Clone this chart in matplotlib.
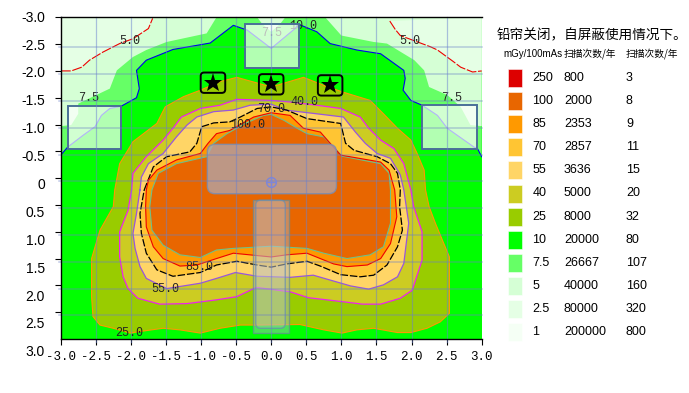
import matplotlib
matplotlib.use("Agg")
import matplotlib.pyplot as plt
from matplotlib.patches import FancyBboxPatch, Rectangle

W, H = 689, 393

plt.rcParams['font.family'] = ['Liberation Sans', 'Noto Sans CJK SC', 'DejaVu Sans']

# dose contours (x, y in metres)
c25_x = [0, .46, .75, 1.01, 1.41, 1.60, 1.80, 1.99, 2.08, 2.18, 2.20, 2.25, 2.34, 2.46, 2.54, 2.54, 2.41, 2.22, 1.99, 1.80, 1.46, 1.22, 1.01, .75, .41, -.20, -.44, -.73, -1.01, -1.30, -1.54, -1.87, -2.01, -2.25, -2.44, -2.54, -2.56, -2.56, -2.44, -2.25, -2.23, -2.16, -1.97, -1.63, -1.51, -1.25, -1.01, -.73, -.49, -.16, 0]
c25_y = [-1.70, -1.88, -1.73, -1.61, -1.45, -1.20, -.93, -.71, -.46, -.15, .22, .53, .84, 1.22, 1.47, 2.52, 2.68, 2.80, 2.88, 2.88, 2.80, 2.83, 2.89, 2.83, 2.73, 2.74, 2.74, 2.80, 2.89, 2.83, 2.80, 2.86, 2.89, 2.80, 2.74, 2.58, 2.21, 1.50, .97, .53, .22, -.27, -.68, -1.02, -1.33, -1.52, -1.64, -1.80, -1.88, -1.76, -1.70]

c40_x = [-1.99, -1.97, -1.78, -1.54, -1.40, -1.28, -1.01, -.73, -.49, 0, .27, .65, .99, 1.27, 1.39, 1.56, 1.75, 1.89, 1.99, 2.03, 2.15, 2.15, 2.01, 1.84, 1.56, 1.30, .99, .53, .27, -.20, -.25, -.49, -.78, -1.20, -1.59, -1.90, -2.04, -2.11, -2.16, -2.16, -2.04, -1.99]
c40_y = [.22, -.09, -.40, -.71, -.93, -1.14, -1.30, -1.36, -1.47, -1.45, -1.42, -1.36, -1.30, -1.14, -.93, -.71, -.55, -.27, .22, .53, 1.0, 1.53, 2.09, 2.24, 2.35, 2.35, 2.30, 2.23, 2.12, 2.04, 2.06, 2.21, 2.27, 2.34, 2.35, 2.24, 2.06, 1.84, 1.47, 1.0, .60, .22]

c55_x = [-1.87, -1.85, -1.75, -1.54, -1.35, -1.20, -1.06, -.82, -.54, -.30, 0, .20, .65, 1.03, 1.20, 1.34, 1.51, 1.70, 1.84, 1.89, 1.96, 1.89, 1.80, 1.60, 1.39, 1.13, .60, .27, -.20, -.51, -.78, -1.01, -1.49, -1.78, -1.87, -1.94, -1.97, -1.92, -1.87]
c55_y = [.22, -.02, -.27, -.46, -.77, -.99, -1.14, -1.24, -1.27, -1.36, -1.38, -1.27, -1.20, -1.14, -.86, -.65, -.46, -.37, -.06, .22, .84, 1.59, 1.84, 1.99, 2.07, 2.01, 1.81, 1.85, 1.83, 1.76, 1.87, 1.96, 2.06, 1.87, 1.65, 1.31, 1.03, .66, .22]

c70_x = [-1.81, -1.68, -1.49, -1.16, -1.06, -.99, -.82, -.59, -.44, -.20, 0, .22, .51, .99, 1.06, 1.18, 1.51, 1.70, 1.80, 1.84, 1.83, 1.87, 1.80, 1.65, 1.46, 1.27, .99, .70, .51, .22, 0, -.20, -.49, -.78, -1.01, -1.40, -1.63, -1.78, -1.85, -1.87, -1.81]
c70_y = [.22, -.21, -.40, -.49, -.65, -.96, -1.03, -1.05, -1.14, -1.30, -1.33, -1.27, -1.11, -1.02, -.65, -.52, -.40, -.27, -.09, .22, .53, .97, 1.28, 1.62, 1.81, 1.84, 1.80, 1.64, 1.55, 1.60, 1.66, 1.62, 1.55, 1.62, 1.76, 1.83, 1.71, 1.40, 1.03, .66, .22]

c85_x = [-1.75, -1.63, -1.35, -1.01, -.90, -.78, -.59, -.25, 0, .27, .46, .70, .84, .99, 1.56, 1.68, 1.76, 1.79, 1.70, 1.56, 1.37, 1.08, .89, .51, .22, 0, -.54, -.78, -1.06, -1.30, -1.54, -1.68, -1.78, -1.79, -1.78, -1.75]
c85_y = [.04, -.15, -.34, -.46, -.65, -.83, -.89, -1.14, -1.22, -1.17, -.93, -.86, -.65, -.43, -.30, -.15, .22, .72, 1.22, 1.50, 1.62, 1.65, 1.60, 1.40, 1.43, 1.47, 1.40, 1.50, 1.62, 1.64, 1.50, 1.28, .91, .53, .22, .04]

c100_x = [-1.70, -1.61, -1.35, -.92, -.82, -.63, -.37, -.11, 0, .18, .37, .51, .75, .89, 1.01, 1.56, 1.68, 1.70, 1.70, 1.60, 1.41, 1.08, .75, .51, 0, -.54, -.78, -1.01, -1.30, -1.54, -1.70, -1.73, -1.70]
c100_y = [.22, -.09, -.27, -.40, -.65, -.83, -1.02, -1.17, -1.19, -1.08, -.93, -.83, -.77, -.58, -.41, -.27, -.09, .22, .84, 1.28, 1.43, 1.50, 1.40, 1.31, 1.27, 1.31, 1.34, 1.48, 1.43, 1.25, .97, .53, .22]

c10_x = [-3.0, -2.90, -2.68, -2.51, -2.42, -2.30, -2.14, -1.92, -1.88, -1.92, -1.78, -1.40, -.87, -.54, -.34, 0, .34, .39, .65, .84, 1.22, 1.56, 1.89, 1.91, 1.88, 1.99, 2.15, 2.22, 2.37, 2.51, 2.89, 2.94, 3.0]
c10_y = [-.43, -.58, -.80, -.96, -1.17, -1.30, -1.34, -1.50, -1.67, -2.01, -2.20, -2.40, -2.52, -2.85, -2.76, -2.42, -2.79, -2.87, -2.73, -2.51, -2.39, -2.32, -2.01, -1.86, -1.64, -1.45, -1.36, -1.30, -1.17, -.93, -.58, -.55, -.40]

c75_left_x = [-3, -2.85, -2.75, -2.75, -2.30, -2.20, -1.97, -1.78, -1.49, -.92, -.78]
c75_left_y = [-.97, -.99, -1.20, -1.39, -1.67, -2.01, -2.26, -2.39, -2.54, -2.70, -3.0]
c75_right_x = [.77, 1.0, 1.46, 1.65, 2.04, 2.18, 2.25, 2.51, 2.70, 2.84, 3.0]
c75_right_y = [-3.0, -2.66, -2.54, -2.51, -2.20, -2.01, -1.70, -1.55, -1.33, -.99, -.97]
c75_mid_x = [-.2, -.13, 0, .13, .2]
c75_mid_y = [-3.0, -2.88, -2.73, -2.88, -3.0]

c5_left_x = [-3, -2.85, -2.70, -2.59, -2.40, -2.16, -1.97, -1.82, -1.75, -1.69]
c5_left_y = [-2.0, -2.0, -2.07, -2.20, -2.35, -2.51, -2.60, -2.73, -2.79, -2.98]
c5_right_x = [1.69, 1.77, 1.84, 2.27, 2.37, 2.60, 2.70, 2.87, 3.0]
c5_right_y = [-2.93, -2.77, -2.66, -2.45, -2.39, -2.17, -2.07, -1.98, -2.0]

label_text = ['5.0', '5.0', '7.5', '7.5', '7.5', '10.0', '40.0', '70.0', '100.0', '85.0', '55.0', '25.0']
label_x = [-2.01, 1.97, -2.61, 2.57, 0, .46, .47, 0, -.34, -1.03, -1.51, -2.03]
label_y = [-2.55, -2.55, -1.49, -1.49, -2.70, -2.83, -1.42, -1.29, -.99, 1.66, 2.06, 2.89]

# shielding boxes and table, x0 y0 x1 y1
shield_boxes = [(-2.90, -1.34, -2.14, -.54), (-.38, -2.87, .39, -2.06), (2.15, -1.36, 2.94, -.55)]
gantry_box = (-.91, -.63, .93, .29)
table_outer = (-.26, .41, .25, 2.88)
table_inner = (-.22, .41, .20, 2.80)
star_x = [-.83, 0, .84]
star_y = [-1.78, -1.75, -1.73]
iso_x = [0]
iso_y = [.07]

ticks = [-3.0, -2.5, -2.0, -1.5, -1.0, -.5, 0, .5, 1.0, 1.5, 2.0, 2.5, 3.0]
x_tick_labels = ['-3.0', '-2.5', '-2.0', '-1.5', '-1.0', '-0.5', '0.0', '0.5', '1.0', '1.5', '2.0', '2.5', '3.0']
y_tick_labels = ['-3.0', '-2.5', '-2.0', '-1.5', '-1.0', '-0.5', '0', '0.5', '1.0', '1.5', '2.0', '2.5', '3.0']

legend_title = '铅帘关闭，自屏蔽使用情况下。'
legend_head = ['mGy/100mAs', '扫描次数/年', '扫描次数/年']
legend_dose = ['250', '100', '85', '70', '55', '40', '25', '10', '7.5', '5', '2.5', '1']
legend_scans = ['800', '2000', '2353', '2857', '3636', '5000', '8000', '20000', '26667', '40000', '80000', '200000']
legend_year = ['3', '8', '9', '11', '15', '20', '32', '80', '107', '160', '320', '800']
legend_colors = ['#dd0000', '#e86600', '#ff9900', '#ffc533', '#ffd566', '#cccc22', '#99cc00', '#00ff00', '#66ff66', '#d5ffd5', '#e5ffe5', '#f5fff5']


def rounded(x0, y0, x1, y1, r, **kw):
    return FancyBboxPatch((x0, y0), x1 - x0, y1 - y0, boxstyle=f"round,pad=0,rounding_size={r}",
                          mutation_aspect=70 / 53.67, **kw)


def main():
    fig = plt.figure(figsize=(W / 100, H / 100), dpi=100)
    ax = fig.add_axes([60.7 / W, 1 - 339 / H, 421 / W, 321.7 / H])
    ax.set_xlim(-3, 3)
    ax.set_ylim(3, -3)
    ax.set_facecolor('#00ff00')

    # upper scatter zones
    ax.fill(c10_x + [3, -3], c10_y + [-3, -3], color='#66ff66', lw=0, zorder=1)
    ax.fill(c75_left_x + [-3], c75_left_y + [-3], color='#d5ffd5', lw=0, zorder=2)
    ax.fill(c75_right_x + [3], c75_right_y + [-3], color='#d5ffd5', lw=0, zorder=2)
    ax.fill(c75_mid_x, c75_mid_y, color='#d5ffd5', lw=0, zorder=2)
    ax.fill(c5_left_x + [-3], c5_left_y + [-3], color='#e5ffe5', lw=0, zorder=3)
    ax.fill(c5_right_x + [3], c5_right_y + [-3], color='#e5ffe5', lw=0, zorder=3)

    # main dose bands
    ax.fill(c25_x, c25_y, facecolor='#99cc00', edgecolor='#ff9900', lw=0.8, zorder=4)
    ax.fill(c40_x, c40_y, color='#cccc22', lw=0, zorder=5)
    ax.fill(c55_x, c55_y, color='#ffd566', lw=0, zorder=6)
    ax.fill(c70_x, c70_y, color='#ffc533', lw=0, zorder=7)
    ax.fill(c85_x, c85_y, color='#ff9900', lw=0, zorder=8)
    ax.fill(c100_x, c100_y, facecolor='#e86600', edgecolor='#6fc08a', lw=0.8, zorder=9)

    # contour lines
    ax.plot(c10_x, c10_y, color='#0000ee', lw=0.8, zorder=10)
    ax.plot(c5_left_x, c5_left_y, color='#ee0000', lw=0.8, dashes=(9, 1.5), zorder=10)
    ax.plot(c5_right_x, c5_right_y, color='#ee0000', lw=0.8, dashes=(9, 1.5), zorder=10)
    ax.plot(c40_x, c40_y, color='#ee22ee', lw=0.9, zorder=10)
    ax.plot(c55_x, c55_y, color='#9955dd', lw=0.9, zorder=10)
    ax.plot(c70_x, c70_y, color='black', lw=0.9, dashes=(6, 1.5), zorder=10)
    ax.plot(c85_x, c85_y, color='#ee0000', lw=0.8, zorder=10)

    for t, x, y in zip(label_text, label_x, label_y):
        ax.text(x, y, t, ha='center', va='center', fontsize=8.5, family='Liberation Mono',
                color='#222222', zorder=11, clip_on=True)

    # shields and couch overlays
    for x0, y0, x1, y1 in shield_boxes:
        ax.add_patch(Rectangle((x0, y0), x1 - x0, y1 - y0, facecolor=(1, 1, 1, 0.7),
                               edgecolor='#4a7098', lw=1.4, zorder=12))
    x0, y0, x1, y1 = gantry_box
    ax.add_patch(rounded(x0, y0, x1, y1, .11, facecolor=(.68, .67, .73, .72),
                         edgecolor=(.5, .55, .67, .9), lw=1.0, zorder=12))
    x0, y0, x1, y1 = table_outer
    ax.add_patch(Rectangle((x0, y0), x1 - x0, y1 - y0, facecolor=(.68, .72, .78, .45),
                           edgecolor=(.4, .55, .6, .7), lw=1.0, zorder=13))
    x0, y0, x1, y1 = table_inner
    ax.add_patch(rounded(x0, y0, x1, y1, .07, facecolor=(.85, .85, .85, .2),
                         edgecolor=(.4, .55, .7, .7), lw=1.0, zorder=13))

    # grid sits slightly below the y ticks in the original
    for t in ticks[1:-1]:
        ax.plot([-3.02, 3], [t + .06, t + .06], color=(.42, .5, .78), alpha=.42, lw=1.1, zorder=14, clip_on=False)
        ax.plot([t, t], [-3, 3.06], color=(.42, .5, .82), alpha=.5, lw=.9, zorder=14, clip_on=False)

    ax.plot(iso_x, iso_y, 'o', ms=7, mfc='none', mec='#7d86d8', mew=1, zorder=15)
    ax.plot(iso_x, iso_y, '+', ms=7, mec='#7d86d8', mew=1, zorder=15)

    # star markers in rounded frames
    for x, y in zip(star_x, star_y):
        ax.add_patch(rounded(x - .175, y - .19, x + .175, y + .19, .05, facecolor='none',
                             edgecolor='black', lw=1.4, zorder=16))
    ax.plot(star_x, star_y, '*', ms=14, color='black', mew=0, zorder=17)

    ax.spines['right'].set_visible(False)
    for s in ['left', 'top', 'bottom']:
        ax.spines[s].set_linewidth(1.0)
        ax.spines[s].set_zorder(20)
    ax.set_xticks(ticks)
    ax.set_yticks(ticks[:-1])
    ax.tick_params(length=4, width=.8, labelleft=False, labelbottom=False)

    for t, lab in zip(ticks, x_tick_labels):
        fig.text((60.7 + (t + 3) * 70.17) / W, 1 - 357 / H, lab, ha='center', va='center',
                 fontsize=9, family='Liberation Mono')
    for t, lab in zip(ticks, y_tick_labels):
        # labels drift from the ticks in the source image
        fig.text(45 / W, 1 - (185 + t * 55.8) / H, lab, ha='right', va='center', fontsize=10)

    # legend panel in pixel coordinates
    leg = fig.add_axes([0, 0, 1, 1], facecolor='none')
    leg.set_xlim(0, W)
    leg.set_ylim(H, 0)
    leg.axis('off')
    rows = [78 + 23.1 * i for i in range(len(legend_dose))]
    leg.barh(rows, [14] * len(rows), left=507.7, height=18, color=legend_colors,
             edgecolor=[(1, 1, 1, .6)] * len(rows), lw=.6)
    for y, d, s, n in zip(rows, legend_dose, legend_scans, legend_year):
        leg.text(532.5, y, d, va='center', fontsize=9)
        leg.text(564, y, s, va='center', fontsize=9)
        leg.text(626, y, n, va='center', fontsize=9)
    leg.text(497, 35, legend_title, va='center', fontsize=9.8, family='Noto Sans CJK SC')
    leg.text(503, 54, legend_head[0], va='center', fontsize=7)
    leg.text(564, 54, legend_head[1], va='center', fontsize=7, family='Noto Sans CJK SC')
    leg.text(626, 54, legend_head[2], va='center', fontsize=7, family='Noto Sans CJK SC')

    fig.savefig('out.png', dpi=100)
    plt.close(fig)


if __name__ == "__main__":
    main()
